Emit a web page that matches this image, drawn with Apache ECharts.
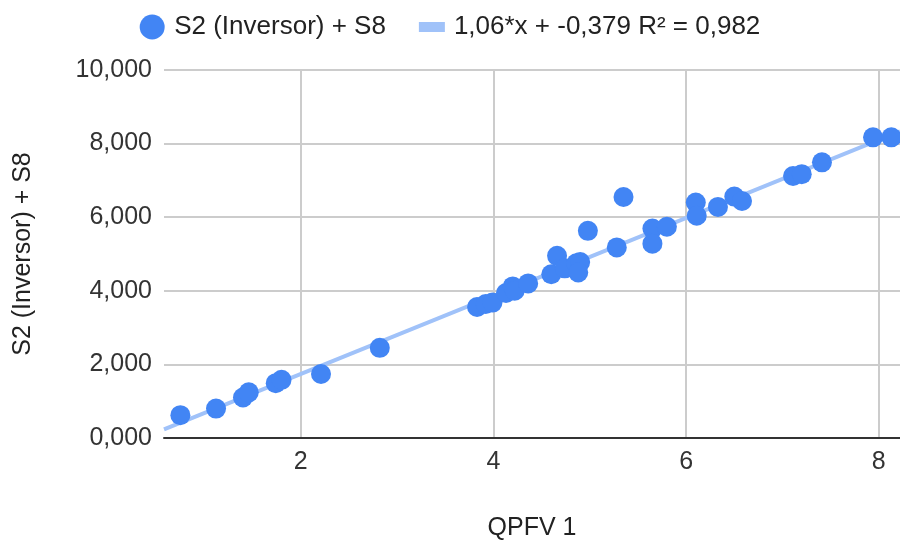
<!DOCTYPE html>
<html>
<head>
<meta charset="utf-8">
<script src="https://cdn.jsdelivr.net/npm/echarts@6/dist/echarts.min.js"></script>
<style>
  html, body { margin: 0; padding: 0; background: #fff; }
  #chart { width: 900px; height: 546px; }
</style>
</head>
<body>
<div id="chart"></div>
<script>
// QPFV 1 readings (x) against S2 (Inversor) + S8 (y)
const qpfv = [0.75, 1.12, 1.40, 1.46, 1.74, 1.80, 2.21, 2.82, 3.83, 3.92, 3.99, 4.13, 4.20, 4.22, 4.36,
              4.60, 4.66, 4.74, 4.86, 4.90, 4.88, 4.98, 5.28, 5.35, 5.65, 5.65, 5.80, 6.10, 6.11, 6.33,
              6.50, 6.58, 7.11, 7.20, 7.41, 7.94, 8.13];
const s2s8 = [0.62, 0.80, 1.10, 1.24, 1.49, 1.58, 1.74, 2.45, 3.56, 3.64, 3.68, 3.94, 4.12, 4.00, 4.20,
              4.45, 4.95, 4.61, 4.75, 4.78, 4.50, 5.63, 5.18, 6.55, 5.69, 5.28, 5.74, 6.40, 6.04, 6.28,
              6.56, 6.44, 7.12, 7.17, 7.49, 8.17, 8.17];

// Linear trendline coefficients, as printed in the legend
const slope = 1.06;
const intercept = -0.379;
const r2 = 0.982;

const xMin = 0.58, xMax = 8.22;
const yMin = 0, yMax = 10;
const xTicks = [2, 4, 6, 8];

const seriesName = 'S2 (Inversor) + S8';
const fmt = (v, d) => v.toFixed(d).replace('.', ',');
const trendName = fmt(slope, 2) + '*x + ' + fmt(intercept, 3) + ' R\u00b2 = ' + fmt(r2, 3);

const points = qpfv.map((x, i) => [x, s2s8[i]]);
const trend = [xMin, xMax].map(x => [x, slope * x + intercept]);

const font = '"Liberation Sans", Arial, sans-serif';
const blue = '#4285F4';
const trendColor = '#A0C2F9';

const chart = echarts.init(document.getElementById('chart'), null, { renderer: 'canvas' });
chart.setOption({
  animation: false,
  backgroundColor: '#fff',
  textStyle: { fontFamily: font },
  legend: {
    top: 9,
    left: 'center',
    itemWidth: 26,
    itemHeight: 25,
    itemGap: 33,
    textStyle: { fontFamily: font, fontSize: 26, color: '#222', padding: [0, 0, 0, 4] },
    data: [
      { name: seriesName, icon: 'circle' },
      { name: trendName, icon: 'path://M0,0h26v10h-26z' }
    ]
  },
  grid: { left: 164, right: 0, top: 70, bottom: 105, containLabel: false },
  xAxis: {
    type: 'value',
    min: xMin,
    max: xMax,
    name: 'QPFV 1',
    nameLocation: 'middle',
    nameGap: 78,
    nameTextStyle: { fontFamily: font, fontSize: 25, color: '#222' },
    axisLine: { show: true, lineStyle: { color: '#333', width: 2 } },
    axisTick: { show: false, customValues: xTicks },
    axisLabel: {
      fontFamily: font, fontSize: 25, color: '#333', margin: 12,
      customValues: xTicks,
      formatter: v => String(v)
    },
    splitLine: { show: true, lineStyle: { color: '#ccc', width: 2 } }
  },
  yAxis: {
    type: 'value',
    min: yMin,
    max: yMax,
    interval: 2,
    name: seriesName,
    nameLocation: 'middle',
    nameGap: 128,
    nameRotate: 90,
    nameTextStyle: { fontFamily: font, fontSize: 25, color: '#222' },
    axisLine: { show: false },
    axisTick: { show: false },
    axisLabel: {
      fontFamily: font, fontSize: 25, color: '#333', margin: 12,
      formatter: v => fmt(v, 3)
    },
    splitLine: { show: true, lineStyle: { color: '#ccc', width: 2 } }
  },
  series: [
    {
      name: trendName,
      type: 'line',
      data: trend,
      symbol: 'none',
      color: trendColor,
      lineStyle: { color: trendColor, width: 4 },
      z: 1,
      silent: true
    },
    {
      name: seriesName,
      type: 'scatter',
      data: points,
      symbol: 'circle',
      symbolSize: 20,
      itemStyle: { color: blue, opacity: 1 },
      z: 2
    }
  ]
});
</script>
</body>
</html>
